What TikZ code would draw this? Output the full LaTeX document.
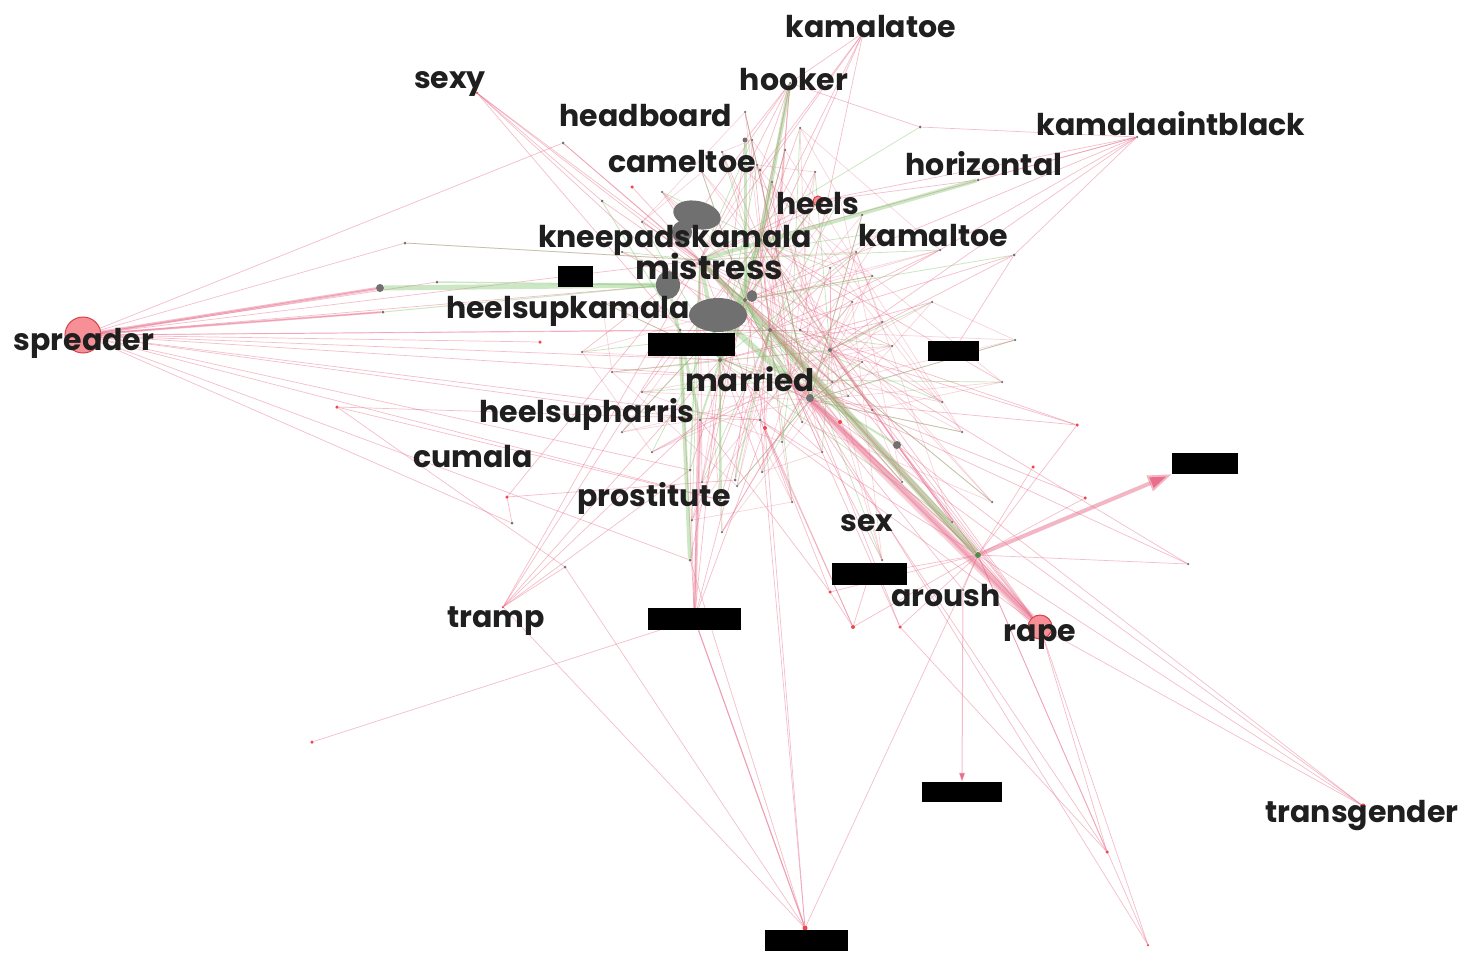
\documentclass[tikz,border=0pt]{standalone}
\usepackage{fontspec}
\setmainfont{Poppins}
\usetikzlibrary{arrows.meta,shapes.geometric}
\pgfdeclarelayer{back}
\pgfdeclarelayer{bg}
\pgfsetlayers{back,bg,main}
\definecolor{pk}{RGB}{232,110,140}
\definecolor{gn}{RGB}{125,195,105}
\definecolor{gy}{RGB}{112,112,112}
\definecolor{rd}{RGB}{240,70,80}
\begin{document}
\begin{tikzpicture}[x=1pt,y=-1pt,
  gdot/.style={circle,fill=gy,inner sep=0pt,minimum size=#1},
  gdot/.default=3pt,
  rdot/.style={circle,fill=rd,inner sep=0pt,minimum size=#1},
  rdot/.default=3.5pt,
  bignode/.style={circle,fill=rd!75,fill opacity=0.8,draw=rd!90!black,line width=1pt,inner sep=0pt,minimum size=#1},
  blob/.style={ellipse,fill=gy,inner sep=0pt},
  redact/.style={fill=black,inner sep=0pt},
  lbl/.style={font=\bfseries\fontsize{30}{30}\selectfont,text=black!88,inner sep=0pt,anchor=base},
  pe/.style={draw=pk,draw opacity=0.45,line width=0.7pt},
  ge/.style={draw=gn,draw opacity=0.45,line width=0.7pt}
]
\begin{pgfonlayer}{back}
\fill[white] (0,0) rectangle (1461,959);
\end{pgfonlayer}
\useasboundingbox (0,0) rectangle (1461,959);

% ---- main nodes ----
\node[bignode=36pt] (spr) at (83,335) {};
\node[bignode=24pt] (rap) at (1040,627) {};
\node[bignode=10pt] (hel) at (818,201) {};
\node[rdot=5pt] (trg) at (1363,806) {};
\node[circle,fill=gn!70!black,inner sep=0pt,minimum size=6pt] (hub) at (978,555) {};

\node[gdot=2.5pt] (kto) at (863,33) {};
\node[gdot=2.5pt] (hoo) at (790,83) {};
\node[rdot=2.5pt] (sxy) at (477,93) {};
\node[gdot=2.5pt] (kab) at (1137,137) {};
\node[gdot=3pt] (n920) at (920,127) {};
\node[gdot=3pt] (hor) at (978,180) {};
\node[gdot=3pt] (n1014) at (1014,255) {};

\node[gdot=8pt] (g380) at (380,288) {};
\node[gdot=3pt] (g437) at (437,282) {};
\node[gdot=3pt] (g383) at (383,312) {};
\node[gdot=3pt] (g405) at (405,243) {};
\node[gdot=3pt] (g563) at (563,143) {};
\node[rdot] (r632) at (632,187) {};
\node[gdot=3pt] (g602) at (602,201) {};
\node[rdot] (r540) at (540,342) {};
\node[rdot] (r337) at (337,407) {};
\node[rdot] (r507) at (507,497) {};
\node[gdot=3pt] (g512) at (512,523) {};
\node[gdot=3pt] (g565) at (565,567) {};
\node[rdot=2.5pt] (trp) at (503,607) {};
\node[rdot] (r312) at (312,742) {};

% central hubs
\node[gdot=4pt] (h1) at (700,260) {};
\node[gdot=4pt] (h2) at (745,300) {};
\node[gdot=4pt] (h3) at (770,330) {};
\node[gdot=4pt] (h4) at (720,360) {};
\node[gdot=4pt] (h5) at (790,380) {};
\node[gdot=4pt] (h6) at (810,400) {};
\node[gdot=4pt] (h7) at (760,240) {};
\node[gdot=4pt] (h8) at (830,350) {};
\node[gdot=3pt] (c7) at (680,330) {};
\node[gdot=3pt] (cj) at (700,420) {};
\node[gdot=3pt] (ck) at (760,420) {};
\node[rdot=4pt] (cl) at (840,422) {};
\node[rdot=4pt] (cm) at (765,428) {};
\node[gdot=5pt] (co) at (745,140) {};
\node[gdot=3pt] (cp) at (760,170) {};
\node[gdot=3pt] (cq) at (800,330) {};
\node[gdot=3pt] (cr) at (690,470) {};
\node[gdot=3pt] (cs) at (735,480) {};
\node[gdot=3pt] (ct) at (690,560) {};
\node[gdot=3pt] (cu) at (720,500) {};
\node[gdot=8pt] (g897) at (897,445) {};
\node[gdot=8pt] (g810) at (810,398) {};

% right / bottom
\node[rdot] (r1077) at (1077,425) {};
\node[rdot] (r1033) at (1033,467) {};
\node[rdot] (r1085) at (1085,498) {};
\node[gdot=2.5pt] (r1188) at (1188,564) {};
\node[rdot=4pt] (r853) at (853,627) {};
\node[rdot] (g900) at (900,627) {};
\node[rdot] (r830) at (830,592) {};
\node[gdot=2.5pt] (gv) at (963,590) {};
\node[rdot] (r1107) at (1107,852) {};
\node[rdot=2.5pt] (r1148) at (1148,945) {};
\node[rdot=5pt] (bxb) at (805,928) {};

% blobs
\node[blob,minimum width=48pt,minimum height=28pt,rotate=-12] (m1) at (697,215) {};
\node[blob,minimum width=20pt,minimum height=22pt] (m1b) at (682,232) {};
\node[blob,minimum width=24pt,minimum height=28pt] (m2) at (668,285) {};
\node[blob,minimum width=58pt,minimum height=34pt] (m3) at (718,315) {};
\node[blob,minimum width=10pt,minimum height=12pt] (m4) at (752,296) {};

% redacted boxes
\node[redact,minimum width=35pt,minimum height=21pt] (rd1) at (575.5,276.5) {};
\node[redact,minimum width=87pt,minimum height=23pt] (rd2) at (691.5,344.5) {};
\node[redact,minimum width=51pt,minimum height=20pt] (rd3) at (953.5,351) {};
\node[redact,minimum width=66pt,minimum height=21pt] (rd4) at (1205,463.5) {};
\node[redact,minimum width=75pt,minimum height=22pt] (rd5) at (869.5,574) {};
\node[redact,minimum width=93pt,minimum height=22pt] (rd6) at (694.5,619) {};
\node[redact,minimum width=80pt,minimum height=20pt] (rd7) at (962,792) {};
\node[redact,minimum width=83pt,minimum height=21pt] (rd8) at (806.5,940.5) {};

% small scattered dots
\foreach \x/\y [count=\i] in {745/112,752/140,757/165,772/182,785/150,800/128,815/172,840/198,862/215,882/232,
  856/252,830/268,872/276,852/302,882/322,892/346,862/362,832/382,848/396,872/410,
  802/422,782/442,822/452,702/482,737/486,692/520,722/532,652/452,622/432,642/392,
  612/372,582/352,602/302,622/252,642/222,662/192,702/172,722/152,932/302,942/402,
  962/432,902/482,952/522,882/560,992/502,1002/382,762/472,792/502,1015/340,940/250}
  {\node[gdot=2.5pt] (d\i) at (\x,\y) {};}

\begin{pgfonlayer}{bg}
  \foreach \i in {1,...,50} {
    \pgfmathtruncatemacro\ka{mod(\i*5,8)+1}
    \pgfmathtruncatemacro\kb{mod(\i*3+2,8)+1}
    \pgfmathtruncatemacro\kc{mod(\i*7+3,8)+1}
    \pgfmathtruncatemacro\jd{mod(\i*17+5,50)+1}
    \draw[pe] (d\i) -- (h\ka);
    \draw[ge] (d\i) -- (h\kb);
    \draw[pe,draw opacity=0.3] (d\i) -- (h\kc);
    \draw[pe,draw opacity=0.3] (d\i) -- (d\jd);
  }
  \foreach \a/\b in {spr/g380,spr/g437,spr/g383,spr/g405,spr/h1,spr/m2,spr/c7,spr/h4,spr/cj,spr/r540,
    spr/h3,spr/h5,spr/ck,spr/cr,spr/cu,spr/ct,spr/g512,spr/g563,
    rap/h2,rap/h3,rap/h6,rap/h8,rap/g897,rap/ck,rap/hub,rap/cq,rap/h7,rap/r1107,rap/r1148,
    hub/h5,hub/h6,hub/h8,hub/h3,hub/g897,hub/r1077,hub/r1085,hub/r1033,hub/r853,hub/r830,
    hub/r1107,hub/bxb,hub/r1188,hub/ck,hub/g900,hub/r1148,hub/rd5,
    kto/h7,kto/h2,kto/h1,kto/cq,kto/hoo,kto/cp,
    hoo/h7,hoo/h1,hoo/h2,hoo/co,hoo/cp,hoo/m1,hoo/n920,hoo/ck,hoo/h3,
    sxy/h1,sxy/h2,sxy/m3,sxy/c7,sxy/g602,
    kab/hor,kab/n920,kab/h8,kab/h2,kab/h7,kab/n1014,kab/cq,kab/hel,
    n1014/h8,n1014/h3,n1014/rd3,
    g563/h1,g563/h2,r632/h1,g602/h2,g405/h1,
    r337/g565,r337/ck,r337/cu,r507/cs,r507/h1,r507/g512,
    trp/cj,trp/c7,trp/g565,trp/h4,trp/cr,trp/h1,
    r312/rd6,rd6/cj,rd6/h4,rd6/c7,rd6/h1,rd6/cr,rd6/cm,rd6/h3,
    bxb/rd6,bxb/ck,bxb/ct,bxb/cm,bxb/g565,bxb/trp,
    g900/h6,g900/h5,r1107/h5,r1107/g900,r1148/h6,
    trg/h6,trg/hub,trg/g897,trg/rap,
    r853/ck,r853/cm,r853/r830,r853/rd5,r1188/cq,r1188/h5,
    r1077/h8,r1077/h6,r1077/cq,r1085/h5,r830/cj,r830/cm,
    hel/h1,hel/h2,hel/hor,gv/h6,gv/hub,
    cl/h3,cl/h1,cm/h2,cm/h7,co/h4,cp/h5,cq/c7,cr/h2,cs/h7,cu/h3,ct/h2,g810/h1,g897/h7}
    {\draw[pe] (\a) -- (\b);}
  % heavier bundles
  \draw[pe,line width=9pt,draw opacity=0.3] (rap) -- (h5);
  \draw[pe,line width=5pt,draw opacity=0.35] (rap) -- (g810);
  \draw[pe,line width=6pt,draw opacity=0.2] (hub) -- (h2);
  \draw[pe,line width=3pt] (spr) -- (g380);
  \draw[pe,line width=2pt] (spr) -- (g383);
  \draw[pe,line width=4pt,draw opacity=0.5,-{Triangle[length=24pt,width=16pt]}] (hub) -- (rd4.south west);
  \draw[pe,line width=1pt,-{Triangle[length=9pt,width=6pt]}] (gv) -- (rd7.north);
  \draw[pe,line width=1.2pt] (rd6) -- (bxb);
  \draw[pe,line width=3pt,draw opacity=0.35] (rd6) -- (cj);
  % green edges
  \foreach \a/\b/\w in {m2/g380/5pt,h1/hor/4pt,h7/hoo/4pt,h3/hub/7pt,c7/ct/4pt,h2/co/3pt,
    h1/n920/0.8pt,h2/n1014/0.8pt,h1/cr/1.5pt,m2/g383/1pt,m2/g437/1.5pt,h4/cu/1.5pt,
    h5/g897/2pt,h3/cs/1.5pt,h1/g405/0.8pt,h2/hel/1.5pt,c7/g602/1pt,h4/cj/2pt,h2/h5/3pt,h1/h4/4pt,
    m3/h5/6pt,h7/h4/5pt,m2/cj/3pt,h1/h3/5pt}
    {\draw[ge,line width=\w,draw opacity=0.4] (\a) -- (\b);}
\end{pgfonlayer}

% ---- labels ----
\node[lbl] (l1) at (871,37) {kamalatoe};
\node[lbl] (l2) at (450,88) {sexy};
\node[lbl] (l3) at (794,90) {hooker};
\node[lbl] (l4) at (646,126) {headboard};
\node[lbl] (l5) at (1171,135) {kamalaaintblack};
\node[lbl] (l6) at (682,172) {cameltoe};
\node[lbl] (l7) at (984,175) {horizontal};
\node[lbl] (l8) at (818,214) {heels};
\node[lbl] (l9) at (675,247) {kneepadskamala};
\node[lbl] (l10) at (933,246) {kamaltoe};
\node[lbl,font=\bfseries\fontsize{33}{33}\selectfont] (l11) at (709,279) {mistress};
\node[lbl] (l12) at (568,318) {heelsupkamala};
\node[lbl] (l13) at (84,350) {spreader};
\node[lbl,font=\bfseries\fontsize{31}{31}\selectfont] (l14) at (750,391) {married};
\node[lbl] (l15) at (587,422) {heelsupharris};
\node[lbl] (l16) at (473,467) {cumala};
\node[lbl] (l17) at (654,506) {prostitute};
\node[lbl] (l18) at (867,531) {sex};
\node[lbl] (l19) at (946,606) {aroush};
\node[lbl] (l20) at (496,627) {tramp};
\node[lbl] (l21) at (1040,641) {rape};
\node[lbl] (l22) at (1362,822) {transgender};
\end{tikzpicture}
\end{document}
